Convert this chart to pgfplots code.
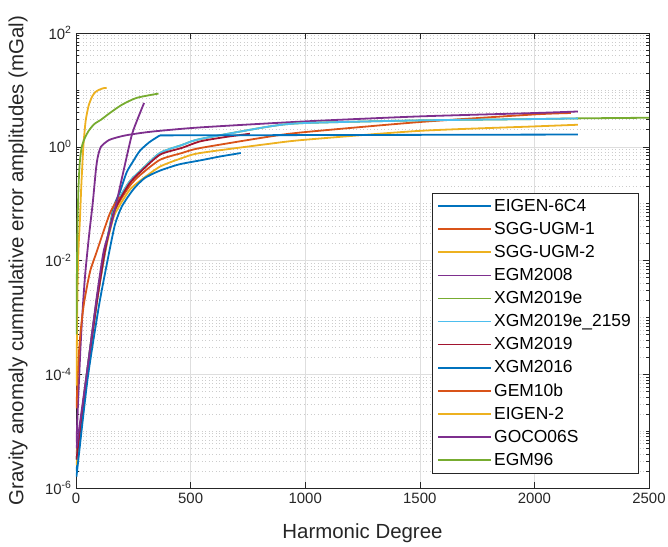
\documentclass[border=0pt]{standalone}
\usepackage{pgfplots}
\pgfplotsset{compat=1.18}
\usepackage{fontspec}
\setmainfont{Liberation Sans}
\definecolor{c1}{HTML}{0072BD}
\definecolor{c2}{HTML}{D95319}
\definecolor{c3}{HTML}{EDB120}
\definecolor{c4}{HTML}{7E2F8E}
\definecolor{c5}{HTML}{77AC30}
\definecolor{c6}{HTML}{4DBEEE}
\definecolor{c7}{HTML}{A2142F}
\definecolor{axc}{HTML}{262626}
\begin{document}
\begin{tikzpicture}
\useasboundingbox (-76bp,-59bp) rectangle (592bp,488bp);
\begin{axis}[
  at={(0,0)}, anchor=south west,
  scale only axis, width=573bp, height=455bp,
  xmin=0, xmax=2500, ymin=1e-6, ymax=100,
  ymode=log,
  xtick={0,500,1000,1500,2000,2500},
  ytick={1e-6,1e-4,1e-2,1,100},
  yticklabels={10\textsuperscript{-6},10\textsuperscript{-4},10\textsuperscript{-2},10\textsuperscript{0},10\textsuperscript{2}},
  minor ytick={2e-6,3e-6,4e-6,5e-6,6e-6,7e-6,8e-6,9e-6,1e-5,2e-5,3e-5,4e-5,5e-5,6e-5,7e-5,8e-5,9e-5,
    2e-4,3e-4,4e-4,5e-4,6e-4,7e-4,8e-4,9e-4,1e-3,2e-3,3e-3,4e-3,5e-3,6e-3,7e-3,8e-3,9e-3,
    2e-2,3e-2,4e-2,5e-2,6e-2,7e-2,8e-2,9e-2,1e-1,0.2,0.3,0.4,0.5,0.6,0.7,0.8,0.9,
    2,3,4,5,6,7,8,9,10,20,30,40,50,60,70,80,90},
  /pgf/number format/assume math mode=true,
  /pgf/number format/1000 sep={},
  tick label style={font=\fontsize{15}{17}\selectfont, text=axc},
  xticklabel style={yshift=-2bp},
  yticklabel style={xshift=-1bp},
  xlabel={Harmonic Degree},
  ylabel={Gravity anomaly cummulative error amplitudes (mGal)},
  every axis x label/.style={at={(axis description cs:0.5,0)}, anchor=center, yshift=-45bp,
     font=\fontsize{20.5}{22}\selectfont, text=axc},
  every axis y label/.style={at={(axis description cs:-0.101,0.5)}, anchor=center, rotate=90,
     font=\fontsize{20.5}{22}\selectfont, text=axc},
  axis line style={axc, line width=0.6bp},
  tick style={axc, line width=0.5bp},
  tick align=inside,
  major tick length=6bp, minor tick length=3bp,
  grid=both,
  major grid style={color=black!13, line width=0.5bp},
  minor grid style={color=black!20, line width=0.5bp, dash pattern=on 1bp off 2.5bp},
  legend style={at={(0.981,0.648)}, anchor=north east, draw=axc, line width=0.5bp,
    font=\fontsize{17.5}{19}\selectfont, row sep=5.4bp, inner xsep=5bp, inner ysep=4bp,
    cells={anchor=west}},
  legend image code/.code={\draw[#1, line width=1.8bp] (0bp,0bp) -- (40bp,0bp); \path (0bp,0bp) -- (53bp,0bp);},
  cl/.style={line width=1.8bp, smooth, tension=0.4},
]
% EIGEN-6C4
\addplot[c1, cl] coordinates {(2,2.0e-6)(50,1e-4)(92,2.0e-3)(127,1.41e-2)(163,8.3e-2)(192,0.162)(221,0.355)(250,0.562)(279,0.851)(320,1.202)(366,1.585)};
\addlegendentry{EIGEN-6C4}
% SGG-UGM-1
\addplot[c2, cl] coordinates {(2,3.98e-6)(50,1.26e-4)(92,2.24e-3)(127,1.585e-2)(163,6.31e-2)(192,0.112)(236,0.209)(279,0.316)(366,0.589)(462,0.776)(541,0.948)(846,1.514)(999,1.811)(1501,2.723)(2003,3.707)(2159,3.917)};
\addlegendentry{SGG-UGM-1}
% SGG-UGM-2
\addplot[c3, cl] coordinates {(2,2.51e-6)(50,1e-4)(92,2.0e-3)(127,1.41e-2)(163,5.62e-2)(192,9.55e-2)(236,0.178)(279,0.251)(366,0.447)(462,0.631)(541,0.776)(846,1.13)(999,1.327)(1501,1.905)(2003,2.28)(2190,2.438)};
\addlegendentry{SGG-UGM-2}
% EGM2008
\addplot[c4, cl] coordinates {(2,6.31e-6)(10,3.98e-5)(20,3.16e-4)(30,1.585e-3)(41,6.31e-3)(58,3.02e-2)(73,0.102)(87,0.398)(95,0.661)(109,1.0)(145,1.318)(204,1.549)(262,1.698)(340,1.862)(541,2.188)(1000,2.793)(1500,3.42)(2000,3.917)(2190,4.169)};
\addlegendentry{EGM2008}
% XGM2019e
\addplot[c5, cl] coordinates {(2,3.16e-6)(50,1.26e-4)(92,2.24e-3)(127,1.585e-2)(163,7.08e-2)(192,0.132)(236,0.251)(279,0.372)(366,0.776)(462,1.072)(541,1.365)(846,2.28)(999,2.612)(1501,2.911)(2003,3.069)(2190,3.155)(2500,3.236)};
\addlegendentry{XGM2019e}
% XGM2019e_2159
\addplot[c6, cl] coordinates {(2,3.16e-6)(50,1.26e-4)(92,2.24e-3)(127,1.585e-2)(163,7.08e-2)(192,0.132)(236,0.251)(279,0.372)(366,0.776)(462,1.072)(541,1.365)(846,2.28)(999,2.612)(1501,2.911)(2003,3.069)(2190,3.155)};
\addlegendentry{XGM2019e\_2159}
% XGM2019
\addplot[c7, cl] coordinates {(2,3.16e-6)(50,1.12e-4)(92,2.0e-3)(127,1.51e-2)(163,6.61e-2)(192,0.12)(236,0.234)(279,0.355)(366,0.724)(462,0.955)(541,1.242)(650,1.479)(759,1.694)};
\addlegendentry{XGM2019}
% XGM2016
\addplot[c1, cl] coordinates {(2,1.58e-6)(50,7.94e-5)(100,1.585e-3)(140,1.12e-2)(170,4.27e-2)(200,8.91e-2)(250,0.178)(300,0.282)(366,0.38)(450,0.49)(541,0.575)(630,0.676)(719,0.776)};
\addlegendentry{XGM2016}
% GEM10b
\addplot[c2, cl] coordinates {(2,2.51e-5)(10,1.585e-4)(20,5.62e-4)(35,1.78e-3)(61,6.31e-3)(90,1.41e-2)(119,3.16e-2)(148,6.76e-2)(170,0.1)(190,0.132)};
\addlegendentry{GEM10b}
% EIGEN-2
\addplot[c3, cl] coordinates {(2,6.31e-5)(5,1e-3)(8,6.31e-3)(12,2.0e-2)(17,5.01e-2)(23,0.2)(32,1.0)(42,2.818)(55,5.248)(70,7.586)(84,9.12)(100,10.0)(120,10.72)(134,10.84)};
\addlegendentry{EIGEN-2}
% GOCO06S
\addplot[c4, cl] coordinates {(2,5.01e-6)(50,1.26e-4)(92,2.51e-3)(120,1.41e-2)(148,3.55e-2)(170,7.94e-2)(206,0.355)(243,1.585)(270,3.162)(297,5.888)};
\addlegendentry{GOCO06S}
% EGM96
\addplot[c5, cl] coordinates {(2,5.01e-4)(4,6.31e-3)(7,5.01e-2)(11,0.2)(16,0.501)(24,0.95)(36,1.349)(55,1.9)(80,2.512)(109,2.985)(150,3.981)(201,5.495)(265,7.244)(360,8.61)};
\addlegendentry{EGM96}
% EIGEN-6C4 flat part
\addplot[c1, line width=1.8bp, forget plot, sharp plot] coordinates {(366,1.585)(2190,1.64)};
\end{axis}
\end{tikzpicture}
\end{document}
